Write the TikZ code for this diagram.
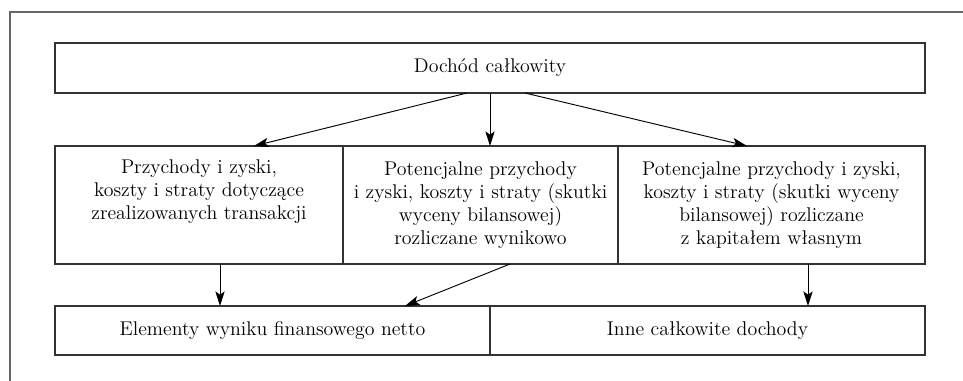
\documentclass[tikz,border=0pt]{standalone}
\usepackage{fontspec}
\usepackage{tikz}
\usetikzlibrary{positioning,calc,arrows.meta}

\begin{document}
\begin{tikzpicture}[
  x=0.75pt, y=-0.75pt,
  >={Stealth[length=11pt,width=7pt,inset=2.5pt]},
  node distance=0pt,
  every node/.style={font=\fontsize{14.9}{17.3}\selectfont, align=center},
  box/.style={draw=black!80, line width=1.1pt, outer sep=0pt, inner sep=2pt},
  topbox/.style={box, minimum width=652.5pt, minimum height=37.5pt},
  midbox/.style={box, minimum height=88.5pt, anchor=north west},
  lowbox/.style={box, minimum width=326.25pt, minimum height=36.75pt, anchor=north west},
  frame/.style={draw=black!60, line width=0.8pt},
  every path/.append style={line width=0.7pt}
]
\useasboundingbox (0,0) rectangle (963,381);

% outer frame, open to the right and at the bottom
\draw[frame] (10,381) -- (10,12) -- (963,12);

\node[topbox] (total) at (490,68) {Dochód całkowity};

\node[midbox, minimum width=216pt] (real) at (55,146)
  {Przychody i zyski,\\koszty i straty dotyczące\\zrealizowanych transakcji\\\strut};
\node[midbox, minimum width=206.25pt, right=of real.north east, anchor=north west] (pnl)
  {Potencjalne przychody\\i zyski, koszty i straty (skutki\\wyceny bilansowej)\\rozliczane wynikowo};
\node[midbox, minimum width=230.25pt, right=of pnl.north east, anchor=north west] (eq)
  {Potencjalne przychody i zyski,\\koszty i straty (skutki wyceny\\bilansowej) rozliczane\\z kapitałem własnym};

\node[lowbox] (net) at (55,306) {Elementy wyniku finansowego netto};
\node[lowbox, right=of net.north east, anchor=north west] (oci) {Inne całkowite dochody};

% start points of the arrows under the boxes
\coordinate (realout) at ($(real.south)+(21,0)$);
\coordinate (eqout) at ($(eq.south)+(36.5,0)$);

\draw[->] ($(total.south)+(-23,0)$) -- ($(real.north)+(55,0)$);
\draw[->] (total.south) -- (total.south |- pnl.north);
\draw[->] ($(total.south)+(35,0)$) -- ($(eq.north)+(-24.5,0)$);

\draw[->] (realout) -- (realout |- net.north);
\draw[->] ($(pnl.south)+(29.5,0)$) -- ($(net.north)+(132.5,0)$);
\draw[->] (eqout) -- (eqout |- oci.north);

\end{tikzpicture}
\end{document}
